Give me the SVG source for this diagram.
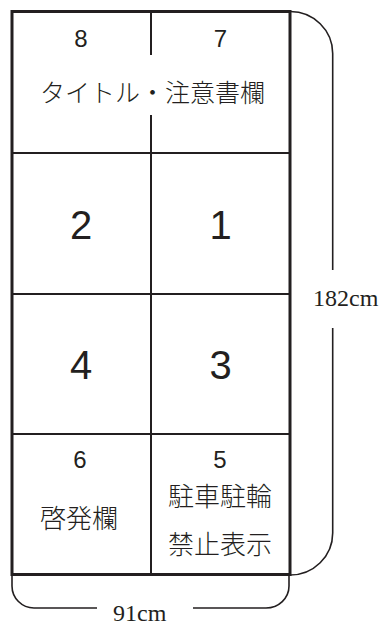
<svg xmlns="http://www.w3.org/2000/svg" width="381" height="625" viewBox="0 0 381 625">
<style>
.frame{fill:none;stroke:#231f20;stroke-width:3}
.div{fill:none;stroke:#231f20;stroke-width:2}
.dim{fill:none;stroke:#231f20;stroke-width:1.6}
.num{font-family:"Liberation Sans",Arial,sans-serif;fill:#231f20;text-anchor:middle}
.big{font-size:40px}
.small{font-size:24px}
.jp{font-family:"Noto Sans CJK JP","Noto Sans CJK SC",sans-serif;font-weight:300;fill:#231f20;text-anchor:middle}
.dimt{font-family:"Liberation Serif","Times New Roman",serif;font-size:24px;fill:#231f20}
</style>
<rect fill="#ffffff" x="0" y="0" width="381" height="625"/>
<g id="connectors">
<path class="div" d="M151,11.5 V55 M151,115 V574.5"/>
<path class="div" d="M12,153 H290 M12,294 H290 M12,434 H290"/>
<path class="dim" d="M290,11.5 A42.5,42 0 0 1 332.7,53.5 V270 M332.7,328 V533 A42.5,42 0 0 1 290,575"/>
<path class="dim" d="M12,575 V586 A22,22 0 0 0 34,608 H97 M193,608 H266 A23,22 0 0 0 289,586 V575"/>
</g>
<g id="frame"><rect class="frame" x="12" y="11.5" width="278" height="563"/></g>
<g id="node-8"><text class="num small" x="81" y="47">8</text></g>
<g id="node-7"><text class="num small" x="220.5" y="47">7</text></g>
<g id="node-title"><text class="jp" font-size="25" x="152.5" y="102">タイトル・注意書欄</text></g>
<g id="node-2"><text class="num big" x="81" y="239">2</text></g>
<g id="node-1"><text class="num big" x="220.5" y="239">1</text></g>
<g id="node-4"><text class="num big" x="81" y="379">4</text></g>
<g id="node-3"><text class="num big" x="220.5" y="379">3</text></g>
<g id="node-6"><text class="num small" x="80" y="468">6</text><text class="jp" font-size="26" x="79" y="528">啓発欄</text></g>
<g id="node-5"><text class="num small" x="220" y="468">5</text><text class="jp" font-size="26" x="220" y="506">駐車駐輪</text><text class="jp" font-size="26" x="220" y="554">禁止表示</text></g>
<g id="dims">
<text class="dimt" x="313" y="306">182cm</text>
<text class="dimt" x="113" y="621">91cm</text>
</g>
</svg>
